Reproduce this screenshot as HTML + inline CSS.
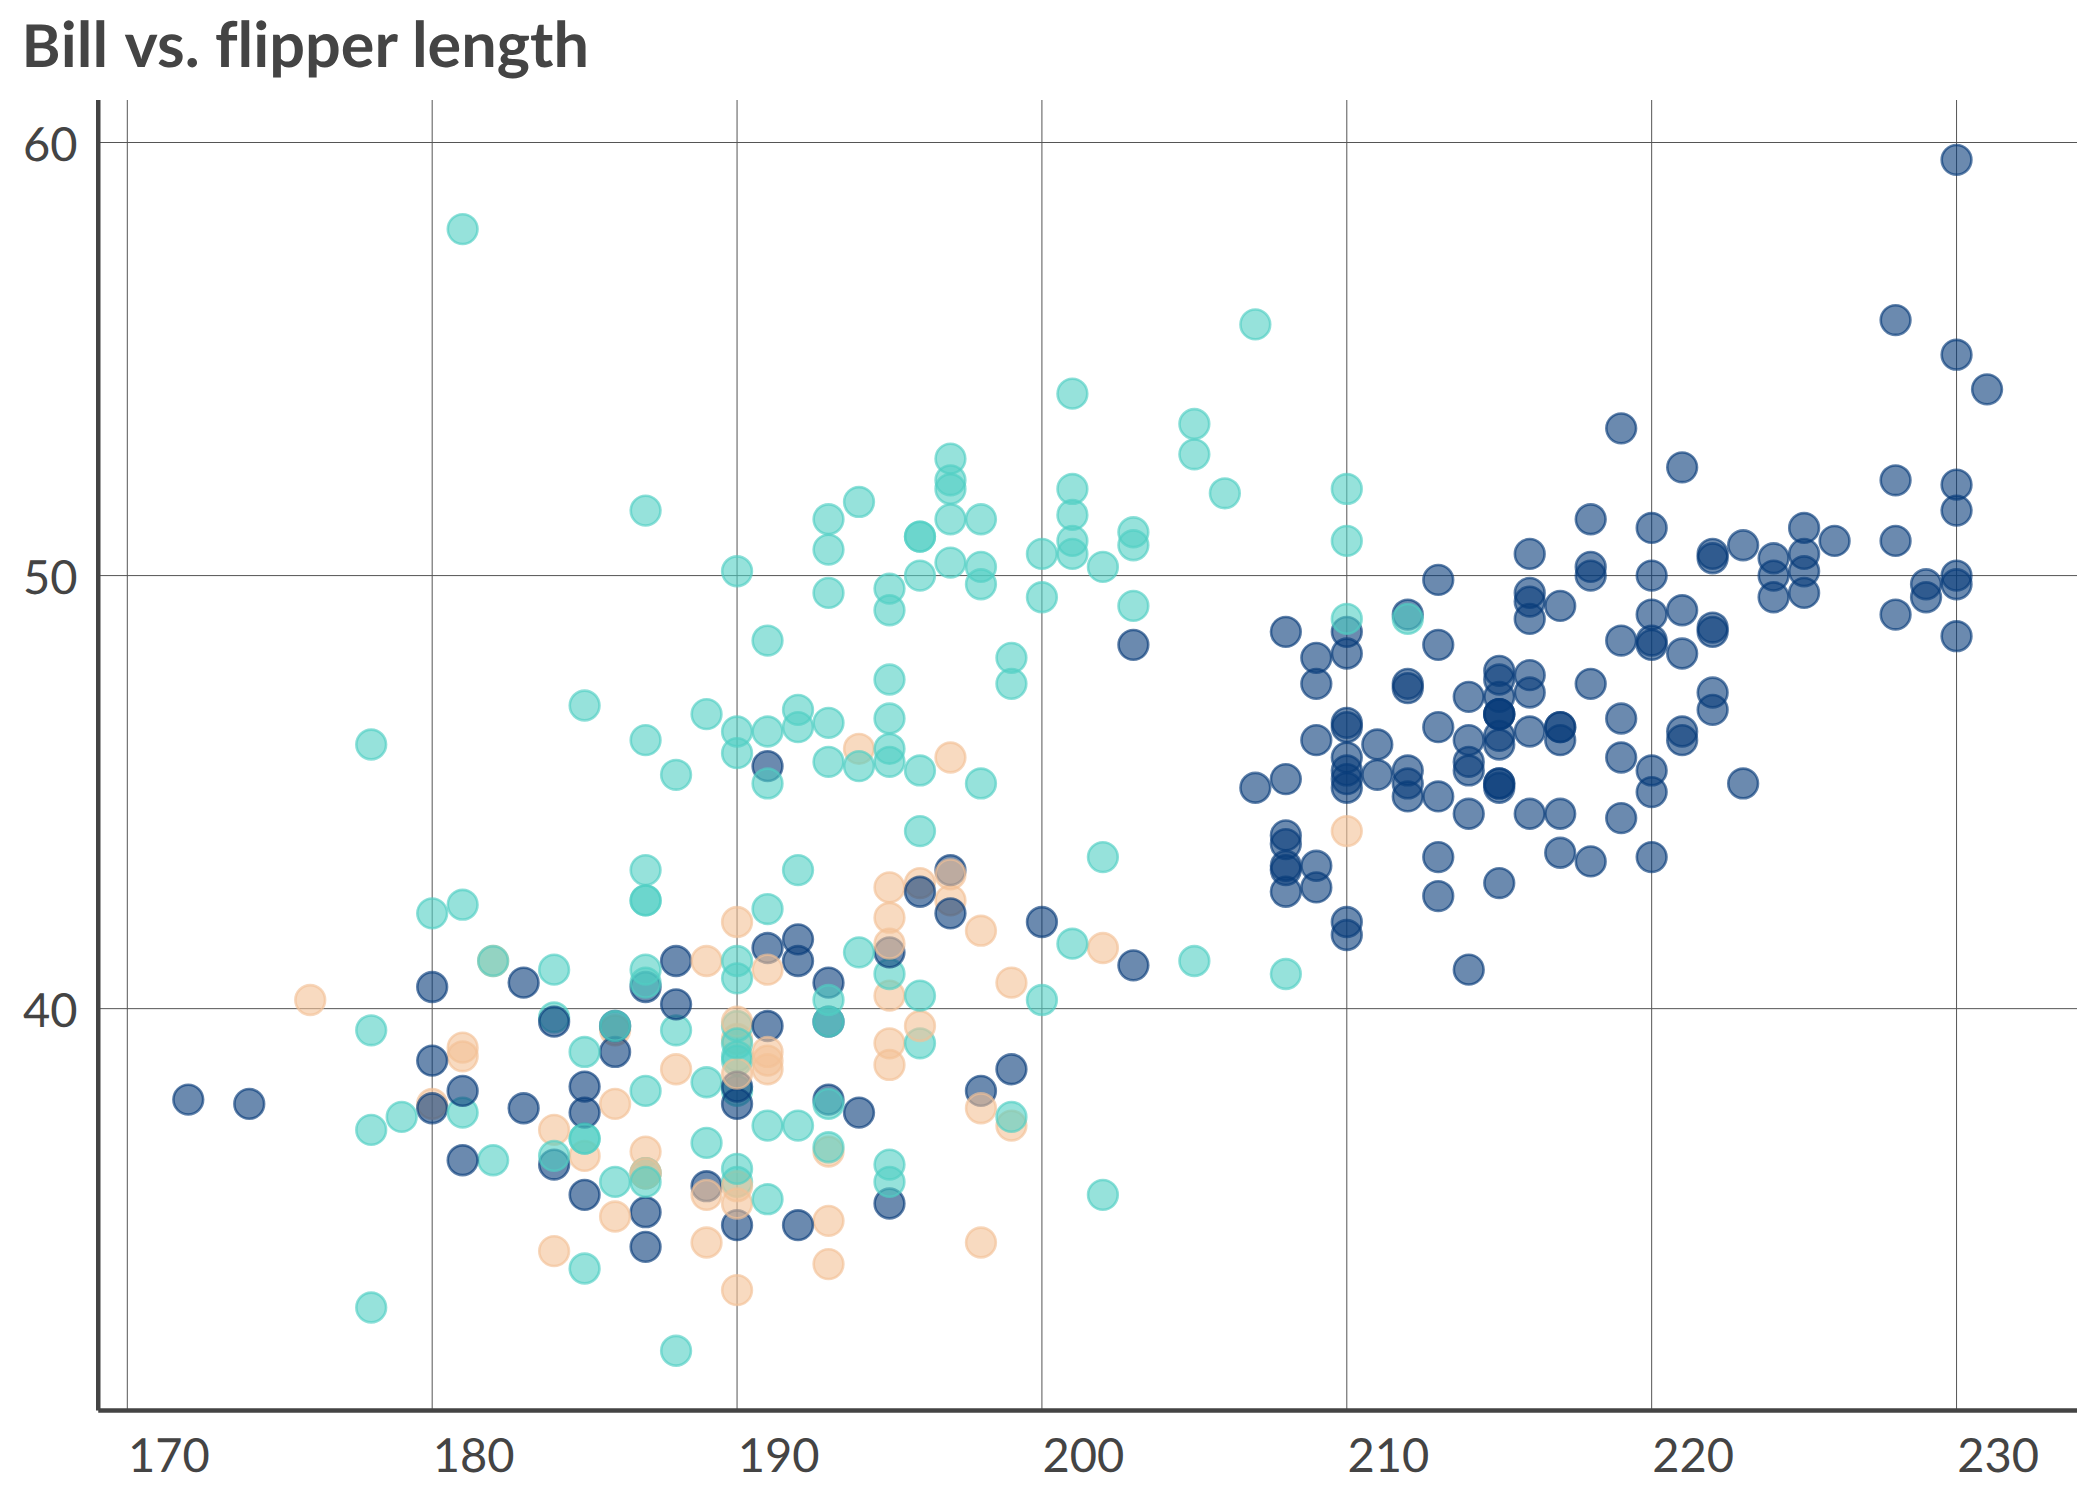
<!DOCTYPE html>
<html lang="en"><head><meta charset="utf-8"><title>Bill vs. flipper length</title>
<style>html,body{margin:0;padding:0;background:#fff}svg{display:block}text{font-family:Lato, 'Liberation Sans', sans-serif;fill:#444444;font-variant-ligatures:none;font-kerning:normal;text-rendering:geometricPrecision}.pt{stroke-width:2.6;fill-opacity:0.6;stroke-opacity:0.64}.B{fill:#083c7a;stroke:#083c7a}.D{fill:#50cfc3;stroke:#50cfc3}.T{fill:#f3c196;stroke:#f3c196}</style></head><body>
<svg width="2100" height="1500" viewBox="0 0 2100 1500">
<rect width="2100" height="1500" fill="#fff"/>
<g stroke="#555555" stroke-width="1" fill="none">
<line x1="127.30" y1="100.0" x2="127.30" y2="1410.5"/>
<line x1="432.18" y1="100.0" x2="432.18" y2="1410.5"/>
<line x1="737.05" y1="100.0" x2="737.05" y2="1410.5"/>
<line x1="1041.92" y1="100.0" x2="1041.92" y2="1410.5"/>
<line x1="1346.80" y1="100.0" x2="1346.80" y2="1410.5"/>
<line x1="1651.67" y1="100.0" x2="1651.67" y2="1410.5"/>
<line x1="1956.55" y1="100.0" x2="1956.55" y2="1410.5"/>
<line x1="98.25" y1="1008.65" x2="2077.0" y2="1008.65"/>
<line x1="98.25" y1="575.58" x2="2077.0" y2="575.58"/>
<line x1="98.25" y1="142.50" x2="2077.0" y2="142.50"/>
</g>
<g class="pts">
<circle class="pt T" cx="462.66" cy="1047.63" r="14.86"/>
<circle class="pt T" cx="615.10" cy="1030.30" r="14.86"/>
<circle class="pt T" cx="889.49" cy="995.66" r="14.86"/>
<circle class="pt T" cx="828.51" cy="1151.56" r="14.86"/>
<circle class="pt T" cx="737.05" cy="1038.97" r="14.86"/>
<circle class="pt T" cx="462.66" cy="1056.29" r="14.86"/>
<circle class="pt T" cx="889.49" cy="1043.30" r="14.86"/>
<circle class="pt T" cx="828.51" cy="1264.16" r="14.86"/>
<circle class="pt T" cx="737.05" cy="922.03" r="14.86"/>
<circle class="pt T" cx="615.10" cy="1103.93" r="14.86"/>
<circle class="pt T" cx="432.18" cy="1103.93" r="14.86"/>
<circle class="pt T" cx="493.15" cy="961.01" r="14.86"/>
<circle class="pt T" cx="767.54" cy="1069.28" r="14.86"/>
<circle class="pt T" cx="980.95" cy="1242.51" r="14.86"/>
<circle class="pt T" cx="584.61" cy="1155.90" r="14.86"/>
<circle class="pt T" cx="889.49" cy="1064.95" r="14.86"/>
<circle class="pt T" cx="950.46" cy="900.38" r="14.86"/>
<circle class="pt T" cx="554.12" cy="1251.17" r="14.86"/>
<circle class="pt T" cx="859.00" cy="748.80" r="14.86"/>
<circle class="pt B" cx="249.25" cy="1103.93" r="14.86"/>
<circle class="pt B" cx="432.18" cy="1108.26" r="14.86"/>
<circle class="pt B" cx="706.56" cy="1186.21" r="14.86"/>
<circle class="pt B" cx="584.61" cy="1086.60" r="14.86"/>
<circle class="pt B" cx="432.18" cy="1060.62" r="14.86"/>
<circle class="pt B" cx="645.59" cy="1212.20" r="14.86"/>
<circle class="pt B" cx="523.64" cy="982.67" r="14.86"/>
<circle class="pt B" cx="645.59" cy="987.00" r="14.86"/>
<circle class="pt B" cx="188.28" cy="1099.60" r="14.86"/>
<circle class="pt B" cx="432.18" cy="987.00" r="14.86"/>
<circle class="pt D" cx="371.20" cy="1030.30" r="14.86"/>
<circle class="pt D" cx="371.20" cy="1129.91" r="14.86"/>
<circle class="pt D" cx="676.07" cy="1030.30" r="14.86"/>
<circle class="pt D" cx="554.12" cy="969.67" r="14.86"/>
<circle class="pt D" cx="889.49" cy="1164.56" r="14.86"/>
<circle class="pt D" cx="919.98" cy="1043.30" r="14.86"/>
<circle class="pt D" cx="737.05" cy="1060.62" r="14.86"/>
<circle class="pt D" cx="432.18" cy="913.37" r="14.86"/>
<circle class="pt D" cx="462.66" cy="1112.59" r="14.86"/>
<circle class="pt D" cx="554.12" cy="1017.31" r="14.86"/>
<circle class="pt D" cx="493.15" cy="1160.23" r="14.86"/>
<circle class="pt D" cx="889.49" cy="974.00" r="14.86"/>
<circle class="pt D" cx="615.10" cy="1181.88" r="14.86"/>
<circle class="pt D" cx="919.98" cy="831.09" r="14.86"/>
<circle class="pt D" cx="584.61" cy="1138.57" r="14.86"/>
<circle class="pt D" cx="737.05" cy="1025.97" r="14.86"/>
<circle class="pt D" cx="493.15" cy="961.01" r="14.86"/>
<circle class="pt D" cx="401.69" cy="1116.92" r="14.86"/>
<circle class="pt D" cx="737.05" cy="1181.88" r="14.86"/>
<circle class="pt D" cx="767.54" cy="909.04" r="14.86"/>
<circle class="pt B" cx="615.10" cy="1025.97" r="14.86"/>
<circle class="pt B" cx="676.07" cy="1004.32" r="14.86"/>
<circle class="pt B" cx="737.05" cy="1225.19" r="14.86"/>
<circle class="pt B" cx="1041.92" cy="922.03" r="14.86"/>
<circle class="pt B" cx="645.59" cy="1246.84" r="14.86"/>
<circle class="pt B" cx="767.54" cy="948.02" r="14.86"/>
<circle class="pt B" cx="615.10" cy="1051.96" r="14.86"/>
<circle class="pt B" cx="828.51" cy="982.67" r="14.86"/>
<circle class="pt B" cx="462.66" cy="1160.23" r="14.86"/>
<circle class="pt B" cx="859.00" cy="1112.59" r="14.86"/>
<circle class="pt B" cx="584.61" cy="1194.87" r="14.86"/>
<circle class="pt B" cx="889.49" cy="952.35" r="14.86"/>
<circle class="pt B" cx="584.61" cy="1112.59" r="14.86"/>
<circle class="pt B" cx="798.02" cy="961.01" r="14.86"/>
<circle class="pt B" cx="554.12" cy="1164.56" r="14.86"/>
<circle class="pt B" cx="798.02" cy="939.36" r="14.86"/>
<circle class="pt B" cx="889.49" cy="1203.53" r="14.86"/>
<circle class="pt B" cx="676.07" cy="961.01" r="14.86"/>
<circle class="pt T" cx="737.05" cy="1186.21" r="14.86"/>
<circle class="pt T" cx="980.95" cy="930.70" r="14.86"/>
<circle class="pt T" cx="737.05" cy="1290.15" r="14.86"/>
<circle class="pt T" cx="737.05" cy="1021.64" r="14.86"/>
<circle class="pt T" cx="919.98" cy="1025.97" r="14.86"/>
<circle class="pt T" cx="950.46" cy="757.47" r="14.86"/>
<circle class="pt T" cx="737.05" cy="1203.53" r="14.86"/>
<circle class="pt T" cx="889.49" cy="887.39" r="14.86"/>
<circle class="pt T" cx="767.54" cy="969.67" r="14.86"/>
<circle class="pt T" cx="554.12" cy="1129.91" r="14.86"/>
<circle class="pt T" cx="645.59" cy="1173.22" r="14.86"/>
<circle class="pt T" cx="889.49" cy="917.70" r="14.86"/>
<circle class="pt T" cx="706.56" cy="1242.51" r="14.86"/>
<circle class="pt T" cx="919.98" cy="883.06" r="14.86"/>
<circle class="pt T" cx="645.59" cy="1151.56" r="14.86"/>
<circle class="pt T" cx="828.51" cy="1220.86" r="14.86"/>
<circle class="pt D" cx="767.54" cy="1125.58" r="14.86"/>
<circle class="pt D" cx="859.00" cy="952.35" r="14.86"/>
<circle class="pt D" cx="737.05" cy="1168.89" r="14.86"/>
<circle class="pt D" cx="706.56" cy="1142.90" r="14.86"/>
<circle class="pt D" cx="706.56" cy="1082.27" r="14.86"/>
<circle class="pt D" cx="737.05" cy="1056.29" r="14.86"/>
<circle class="pt D" cx="1102.90" cy="1194.87" r="14.86"/>
<circle class="pt D" cx="1194.36" cy="961.01" r="14.86"/>
<circle class="pt D" cx="584.61" cy="1268.49" r="14.86"/>
<circle class="pt D" cx="615.10" cy="1025.97" r="14.86"/>
<circle class="pt D" cx="645.59" cy="1173.22" r="14.86"/>
<circle class="pt D" cx="1285.83" cy="974.00" r="14.86"/>
<circle class="pt D" cx="737.05" cy="1090.93" r="14.86"/>
<circle class="pt D" cx="919.98" cy="995.66" r="14.86"/>
<circle class="pt D" cx="371.20" cy="1307.47" r="14.86"/>
<circle class="pt D" cx="798.02" cy="870.07" r="14.86"/>
<circle class="pt B" cx="798.02" cy="1225.19" r="14.86"/>
<circle class="pt B" cx="1133.39" cy="965.34" r="14.86"/>
<circle class="pt B" cx="523.64" cy="1108.26" r="14.86"/>
<circle class="pt B" cx="737.05" cy="1103.93" r="14.86"/>
<circle class="pt B" cx="828.51" cy="1099.60" r="14.86"/>
<circle class="pt B" cx="554.12" cy="1021.64" r="14.86"/>
<circle class="pt B" cx="1011.44" cy="1069.28" r="14.86"/>
<circle class="pt B" cx="737.05" cy="1086.60" r="14.86"/>
<circle class="pt B" cx="462.66" cy="1090.93" r="14.86"/>
<circle class="pt B" cx="950.46" cy="870.07" r="14.86"/>
<circle class="pt B" cx="980.95" cy="1090.93" r="14.86"/>
<circle class="pt B" cx="767.54" cy="766.13" r="14.86"/>
<circle class="pt B" cx="828.51" cy="1021.64" r="14.86"/>
<circle class="pt B" cx="950.46" cy="913.37" r="14.86"/>
<circle class="pt B" cx="767.54" cy="1025.97" r="14.86"/>
<circle class="pt B" cx="919.98" cy="891.72" r="14.86"/>
<circle class="pt T" cx="676.07" cy="1069.28" r="14.86"/>
<circle class="pt T" cx="1011.44" cy="1125.58" r="14.86"/>
<circle class="pt T" cx="706.56" cy="1194.87" r="14.86"/>
<circle class="pt T" cx="706.56" cy="961.01" r="14.86"/>
<circle class="pt T" cx="645.59" cy="1173.22" r="14.86"/>
<circle class="pt T" cx="980.95" cy="1108.26" r="14.86"/>
<circle class="pt T" cx="310.23" cy="999.99" r="14.86"/>
<circle class="pt T" cx="1102.90" cy="948.02" r="14.86"/>
<circle class="pt T" cx="615.10" cy="1216.53" r="14.86"/>
<circle class="pt T" cx="1011.44" cy="982.67" r="14.86"/>
<circle class="pt T" cx="767.54" cy="1060.62" r="14.86"/>
<circle class="pt T" cx="889.49" cy="943.69" r="14.86"/>
<circle class="pt T" cx="767.54" cy="1051.96" r="14.86"/>
<circle class="pt T" cx="1346.80" cy="831.09" r="14.86"/>
<circle class="pt T" cx="737.05" cy="1073.61" r="14.86"/>
<circle class="pt T" cx="950.46" cy="874.40" r="14.86"/>
<circle class="pt D" cx="828.51" cy="1147.23" r="14.86"/>
<circle class="pt D" cx="1011.44" cy="1116.92" r="14.86"/>
<circle class="pt D" cx="645.59" cy="1090.93" r="14.86"/>
<circle class="pt D" cx="737.05" cy="961.01" r="14.86"/>
<circle class="pt D" cx="767.54" cy="1199.20" r="14.86"/>
<circle class="pt D" cx="1041.92" cy="999.99" r="14.86"/>
<circle class="pt D" cx="584.61" cy="1138.57" r="14.86"/>
<circle class="pt D" cx="828.51" cy="1021.64" r="14.86"/>
<circle class="pt D" cx="828.51" cy="999.99" r="14.86"/>
<circle class="pt D" cx="645.59" cy="982.67" r="14.86"/>
<circle class="pt D" cx="676.07" cy="1350.78" r="14.86"/>
<circle class="pt D" cx="737.05" cy="978.33" r="14.86"/>
<circle class="pt D" cx="798.02" cy="1125.58" r="14.86"/>
<circle class="pt D" cx="584.61" cy="1051.96" r="14.86"/>
<circle class="pt D" cx="737.05" cy="1043.30" r="14.86"/>
<circle class="pt D" cx="554.12" cy="1155.90" r="14.86"/>
<circle class="pt D" cx="889.49" cy="1181.88" r="14.86"/>
<circle class="pt D" cx="828.51" cy="1103.93" r="14.86"/>
<circle class="pt D" cx="645.59" cy="1181.88" r="14.86"/>
<circle class="pt D" cx="1072.41" cy="943.69" r="14.86"/>
<circle class="pt B" cx="1377.29" cy="744.47" r="14.86"/>
<circle class="pt B" cx="1956.55" cy="575.58" r="14.86"/>
<circle class="pt B" cx="1346.80" cy="631.87" r="14.86"/>
<circle class="pt B" cx="1590.70" cy="575.58" r="14.86"/>
<circle class="pt B" cx="1499.24" cy="679.51" r="14.86"/>
<circle class="pt B" cx="1346.80" cy="727.15" r="14.86"/>
<circle class="pt B" cx="1377.29" cy="774.79" r="14.86"/>
<circle class="pt B" cx="1621.19" cy="718.49" r="14.86"/>
<circle class="pt B" cx="1316.31" cy="865.74" r="14.86"/>
<circle class="pt B" cx="1499.24" cy="714.16" r="14.86"/>
<circle class="pt B" cx="1468.75" cy="969.67" r="14.86"/>
<circle class="pt B" cx="1529.72" cy="618.88" r="14.86"/>
<circle class="pt B" cx="1468.75" cy="770.46" r="14.86"/>
<circle class="pt B" cx="1438.26" cy="644.87" r="14.86"/>
<circle class="pt B" cx="1346.80" cy="757.47" r="14.86"/>
<circle class="pt B" cx="1560.21" cy="605.89" r="14.86"/>
<circle class="pt B" cx="1346.80" cy="922.03" r="14.86"/>
<circle class="pt B" cx="1682.16" cy="610.22" r="14.86"/>
<circle class="pt B" cx="1316.31" cy="740.14" r="14.86"/>
<circle class="pt B" cx="1712.65" cy="631.87" r="14.86"/>
<circle class="pt B" cx="1590.70" cy="566.91" r="14.86"/>
<circle class="pt B" cx="1499.24" cy="787.78" r="14.86"/>
<circle class="pt B" cx="1438.26" cy="727.15" r="14.86"/>
<circle class="pt B" cx="1499.24" cy="735.81" r="14.86"/>
<circle class="pt B" cx="1499.24" cy="883.06" r="14.86"/>
<circle class="pt B" cx="1499.24" cy="744.47" r="14.86"/>
<circle class="pt B" cx="1529.72" cy="813.77" r="14.86"/>
<circle class="pt B" cx="1499.24" cy="670.85" r="14.86"/>
<circle class="pt B" cx="1346.80" cy="653.53" r="14.86"/>
<circle class="pt B" cx="1651.67" cy="575.58" r="14.86"/>
<circle class="pt B" cx="1712.65" cy="692.51" r="14.86"/>
<circle class="pt B" cx="1316.31" cy="887.39" r="14.86"/>
<circle class="pt B" cx="1255.34" cy="787.78" r="14.86"/>
<circle class="pt B" cx="1956.55" cy="159.82" r="14.86"/>
<circle class="pt B" cx="1651.67" cy="614.55" r="14.86"/>
<circle class="pt B" cx="1651.67" cy="644.87" r="14.86"/>
<circle class="pt B" cx="1438.26" cy="896.05" r="14.86"/>
<circle class="pt B" cx="1621.19" cy="818.10" r="14.86"/>
<circle class="pt B" cx="1285.83" cy="835.42" r="14.86"/>
<circle class="pt B" cx="1285.83" cy="631.87" r="14.86"/>
<circle class="pt B" cx="1285.83" cy="891.72" r="14.86"/>
<circle class="pt B" cx="1804.11" cy="592.90" r="14.86"/>
<circle class="pt B" cx="1346.80" cy="779.12" r="14.86"/>
<circle class="pt B" cx="1529.72" cy="592.90" r="14.86"/>
<circle class="pt B" cx="1712.65" cy="553.92" r="14.86"/>
<circle class="pt B" cx="1560.21" cy="852.74" r="14.86"/>
<circle class="pt B" cx="1346.80" cy="770.46" r="14.86"/>
<circle class="pt B" cx="1804.11" cy="553.92" r="14.86"/>
<circle class="pt B" cx="1438.26" cy="796.44" r="14.86"/>
<circle class="pt B" cx="1499.24" cy="783.45" r="14.86"/>
<circle class="pt B" cx="1346.80" cy="722.82" r="14.86"/>
<circle class="pt B" cx="1651.67" cy="640.54" r="14.86"/>
<circle class="pt B" cx="1346.80" cy="787.78" r="14.86"/>
<circle class="pt B" cx="1804.11" cy="571.24" r="14.86"/>
<circle class="pt B" cx="1560.21" cy="727.15" r="14.86"/>
<circle class="pt B" cx="1651.67" cy="792.11" r="14.86"/>
<circle class="pt B" cx="1285.83" cy="844.08" r="14.86"/>
<circle class="pt B" cx="1651.67" cy="770.46" r="14.86"/>
<circle class="pt B" cx="1285.83" cy="870.07" r="14.86"/>
<circle class="pt B" cx="1773.62" cy="558.25" r="14.86"/>
<circle class="pt B" cx="1285.83" cy="779.12" r="14.86"/>
<circle class="pt B" cx="1682.16" cy="740.14" r="14.86"/>
<circle class="pt B" cx="1468.75" cy="761.80" r="14.86"/>
<circle class="pt B" cx="1987.04" cy="389.35" r="14.86"/>
<circle class="pt B" cx="1621.19" cy="757.47" r="14.86"/>
<circle class="pt B" cx="1956.55" cy="584.24" r="14.86"/>
<circle class="pt B" cx="1468.75" cy="740.14" r="14.86"/>
<circle class="pt B" cx="1926.06" cy="597.23" r="14.86"/>
<circle class="pt B" cx="1651.67" cy="857.07" r="14.86"/>
<circle class="pt B" cx="1743.14" cy="545.26" r="14.86"/>
<circle class="pt B" cx="1529.72" cy="675.18" r="14.86"/>
<circle class="pt B" cx="1682.16" cy="731.48" r="14.86"/>
<circle class="pt B" cx="1682.16" cy="653.53" r="14.86"/>
<circle class="pt B" cx="1560.21" cy="727.15" r="14.86"/>
<circle class="pt B" cx="1529.72" cy="731.48" r="14.86"/>
<circle class="pt B" cx="1956.55" cy="636.21" r="14.86"/>
<circle class="pt B" cx="1316.31" cy="683.84" r="14.86"/>
<circle class="pt B" cx="1651.67" cy="527.94" r="14.86"/>
<circle class="pt B" cx="1499.24" cy="783.45" r="14.86"/>
<circle class="pt B" cx="1743.14" cy="783.45" r="14.86"/>
<circle class="pt B" cx="1407.78" cy="614.55" r="14.86"/>
<circle class="pt B" cx="1682.16" cy="467.31" r="14.86"/>
<circle class="pt B" cx="1407.78" cy="688.17" r="14.86"/>
<circle class="pt B" cx="1773.62" cy="575.58" r="14.86"/>
<circle class="pt B" cx="1407.78" cy="796.44" r="14.86"/>
<circle class="pt B" cx="1895.58" cy="540.93" r="14.86"/>
<circle class="pt B" cx="1590.70" cy="861.40" r="14.86"/>
<circle class="pt B" cx="1590.70" cy="519.28" r="14.86"/>
<circle class="pt B" cx="1407.78" cy="683.84" r="14.86"/>
<circle class="pt B" cx="1956.55" cy="484.63" r="14.86"/>
<circle class="pt B" cx="1590.70" cy="683.84" r="14.86"/>
<circle class="pt B" cx="1895.58" cy="480.30" r="14.86"/>
<circle class="pt B" cx="1407.78" cy="770.46" r="14.86"/>
<circle class="pt B" cx="1773.62" cy="597.23" r="14.86"/>
<circle class="pt B" cx="1468.75" cy="813.77" r="14.86"/>
<circle class="pt B" cx="1834.60" cy="540.93" r="14.86"/>
<circle class="pt B" cx="1529.72" cy="601.56" r="14.86"/>
<circle class="pt B" cx="1712.65" cy="709.83" r="14.86"/>
<circle class="pt B" cx="1133.39" cy="644.87" r="14.86"/>
<circle class="pt B" cx="1804.11" cy="527.94" r="14.86"/>
<circle class="pt B" cx="1621.19" cy="640.54" r="14.86"/>
<circle class="pt B" cx="1895.58" cy="320.06" r="14.86"/>
<circle class="pt B" cx="1499.24" cy="696.84" r="14.86"/>
<circle class="pt B" cx="1895.58" cy="614.55" r="14.86"/>
<circle class="pt B" cx="1529.72" cy="692.51" r="14.86"/>
<circle class="pt B" cx="1499.24" cy="714.16" r="14.86"/>
<circle class="pt B" cx="1346.80" cy="935.03" r="14.86"/>
<circle class="pt B" cx="1621.19" cy="428.33" r="14.86"/>
<circle class="pt B" cx="1285.83" cy="865.74" r="14.86"/>
<circle class="pt B" cx="1316.31" cy="657.86" r="14.86"/>
<circle class="pt B" cx="1529.72" cy="553.92" r="14.86"/>
<circle class="pt B" cx="1926.06" cy="584.24" r="14.86"/>
<circle class="pt B" cx="1438.26" cy="857.07" r="14.86"/>
<circle class="pt B" cx="1956.55" cy="510.61" r="14.86"/>
<circle class="pt B" cx="1560.21" cy="740.14" r="14.86"/>
<circle class="pt B" cx="1956.55" cy="354.71" r="14.86"/>
<circle class="pt B" cx="1560.21" cy="813.77" r="14.86"/>
<circle class="pt B" cx="1712.65" cy="627.54" r="14.86"/>
<circle class="pt B" cx="1468.75" cy="696.84" r="14.86"/>
<circle class="pt B" cx="1499.24" cy="714.16" r="14.86"/>
<circle class="pt B" cx="1712.65" cy="558.25" r="14.86"/>
<circle class="pt B" cx="1407.78" cy="783.45" r="14.86"/>
<circle class="pt B" cx="1438.26" cy="579.91" r="14.86"/>
<circle class="pt D" cx="798.02" cy="727.15" r="14.86"/>
<circle class="pt D" cx="919.98" cy="575.58" r="14.86"/>
<circle class="pt D" cx="828.51" cy="519.28" r="14.86"/>
<circle class="pt D" cx="676.07" cy="774.79" r="14.86"/>
<circle class="pt D" cx="950.46" cy="458.64" r="14.86"/>
<circle class="pt D" cx="980.95" cy="783.45" r="14.86"/>
<circle class="pt D" cx="371.20" cy="744.47" r="14.86"/>
<circle class="pt D" cx="950.46" cy="519.28" r="14.86"/>
<circle class="pt D" cx="889.49" cy="748.80" r="14.86"/>
<circle class="pt D" cx="980.95" cy="519.28" r="14.86"/>
<circle class="pt D" cx="828.51" cy="722.82" r="14.86"/>
<circle class="pt D" cx="859.00" cy="501.95" r="14.86"/>
<circle class="pt D" cx="584.61" cy="705.50" r="14.86"/>
<circle class="pt D" cx="1072.41" cy="488.96" r="14.86"/>
<circle class="pt D" cx="737.05" cy="753.14" r="14.86"/>
<circle class="pt D" cx="1072.41" cy="553.92" r="14.86"/>
<circle class="pt D" cx="950.46" cy="562.58" r="14.86"/>
<circle class="pt D" cx="462.66" cy="229.12" r="14.86"/>
<circle class="pt D" cx="737.05" cy="731.48" r="14.86"/>
<circle class="pt D" cx="889.49" cy="610.22" r="14.86"/>
<circle class="pt D" cx="462.66" cy="904.71" r="14.86"/>
<circle class="pt D" cx="767.54" cy="640.54" r="14.86"/>
<circle class="pt D" cx="645.59" cy="870.07" r="14.86"/>
<circle class="pt D" cx="828.51" cy="549.59" r="14.86"/>
<circle class="pt D" cx="889.49" cy="718.49" r="14.86"/>
<circle class="pt D" cx="950.46" cy="488.96" r="14.86"/>
<circle class="pt D" cx="1041.92" cy="553.92" r="14.86"/>
<circle class="pt D" cx="1041.92" cy="597.23" r="14.86"/>
<circle class="pt D" cx="767.54" cy="731.48" r="14.86"/>
<circle class="pt D" cx="1194.36" cy="454.31" r="14.86"/>
<circle class="pt D" cx="645.59" cy="969.67" r="14.86"/>
<circle class="pt D" cx="1072.41" cy="393.68" r="14.86"/>
<circle class="pt D" cx="645.59" cy="900.38" r="14.86"/>
<circle class="pt D" cx="1133.39" cy="532.27" r="14.86"/>
<circle class="pt D" cx="889.49" cy="588.57" r="14.86"/>
<circle class="pt D" cx="1011.44" cy="683.84" r="14.86"/>
<circle class="pt D" cx="889.49" cy="679.51" r="14.86"/>
<circle class="pt D" cx="1346.80" cy="488.96" r="14.86"/>
<circle class="pt D" cx="798.02" cy="709.83" r="14.86"/>
<circle class="pt D" cx="1194.36" cy="424.00" r="14.86"/>
<circle class="pt D" cx="1346.80" cy="618.88" r="14.86"/>
<circle class="pt D" cx="645.59" cy="740.14" r="14.86"/>
<circle class="pt D" cx="919.98" cy="536.60" r="14.86"/>
<circle class="pt D" cx="919.98" cy="770.46" r="14.86"/>
<circle class="pt D" cx="919.98" cy="536.60" r="14.86"/>
<circle class="pt D" cx="1072.41" cy="540.93" r="14.86"/>
<circle class="pt D" cx="737.05" cy="571.24" r="14.86"/>
<circle class="pt D" cx="1407.78" cy="618.88" r="14.86"/>
<circle class="pt D" cx="645.59" cy="510.61" r="14.86"/>
<circle class="pt D" cx="980.95" cy="584.24" r="14.86"/>
<circle class="pt D" cx="1011.44" cy="657.86" r="14.86"/>
<circle class="pt D" cx="1072.41" cy="514.94" r="14.86"/>
<circle class="pt D" cx="828.51" cy="761.80" r="14.86"/>
<circle class="pt D" cx="1133.39" cy="545.26" r="14.86"/>
<circle class="pt D" cx="645.59" cy="900.38" r="14.86"/>
<circle class="pt D" cx="950.46" cy="480.30" r="14.86"/>
<circle class="pt D" cx="767.54" cy="783.45" r="14.86"/>
<circle class="pt D" cx="1133.39" cy="605.89" r="14.86"/>
<circle class="pt D" cx="1102.90" cy="566.91" r="14.86"/>
<circle class="pt D" cx="859.00" cy="766.13" r="14.86"/>
<circle class="pt D" cx="1224.85" cy="493.29" r="14.86"/>
<circle class="pt D" cx="706.56" cy="714.16" r="14.86"/>
<circle class="pt D" cx="889.49" cy="761.80" r="14.86"/>
<circle class="pt D" cx="1255.34" cy="324.39" r="14.86"/>
<circle class="pt D" cx="1102.90" cy="857.07" r="14.86"/>
<circle class="pt D" cx="828.51" cy="592.90" r="14.86"/>
<circle class="pt D" cx="1346.80" cy="540.93" r="14.86"/>
<circle class="pt D" cx="980.95" cy="566.91" r="14.86"/>
</g>
<g stroke="#444444" stroke-width="4.5" fill="none">
<line x1="98.25" y1="100.0" x2="98.25" y2="1410.5"/>
<line x1="98.25" y1="1410.5" x2="2077.0" y2="1410.5"/>
</g>
<g font-size="47">
<text x="127.90" y="1472" textLength="81.78" lengthAdjust="spacingAndGlyphs">170</text>
<text x="432.78" y="1472" textLength="81.78" lengthAdjust="spacingAndGlyphs">180</text>
<text x="737.65" y="1472" textLength="81.78" lengthAdjust="spacingAndGlyphs">190</text>
<text x="1042.52" y="1472" textLength="81.78" lengthAdjust="spacingAndGlyphs">200</text>
<text x="1347.40" y="1472" textLength="81.78" lengthAdjust="spacingAndGlyphs">210</text>
<text x="1652.27" y="1472" textLength="81.78" lengthAdjust="spacingAndGlyphs">220</text>
<text x="1957.15" y="1472" textLength="81.78" lengthAdjust="spacingAndGlyphs">230</text>
<text x="77.6" y="1026.65" text-anchor="end" textLength="54.53" lengthAdjust="spacingAndGlyphs">40</text>
<text x="77.6" y="593.58" text-anchor="end" textLength="54.53" lengthAdjust="spacingAndGlyphs">50</text>
<text x="77.6" y="160.50" text-anchor="end" textLength="54.53" lengthAdjust="spacingAndGlyphs">60</text>
</g>
<text x="21.85" y="66.5" font-size="63" font-weight="700"><tspan font-size="58.9" textLength="38.78" lengthAdjust="spacingAndGlyphs">B</tspan><tspan dx="0.15" textLength="47.33" lengthAdjust="spacingAndGlyphs">ill</tspan><tspan dx="2.65" textLength="478.28" lengthAdjust="spacingAndGlyphs"> vs. flipper length</tspan></text>
</svg></body></html>
